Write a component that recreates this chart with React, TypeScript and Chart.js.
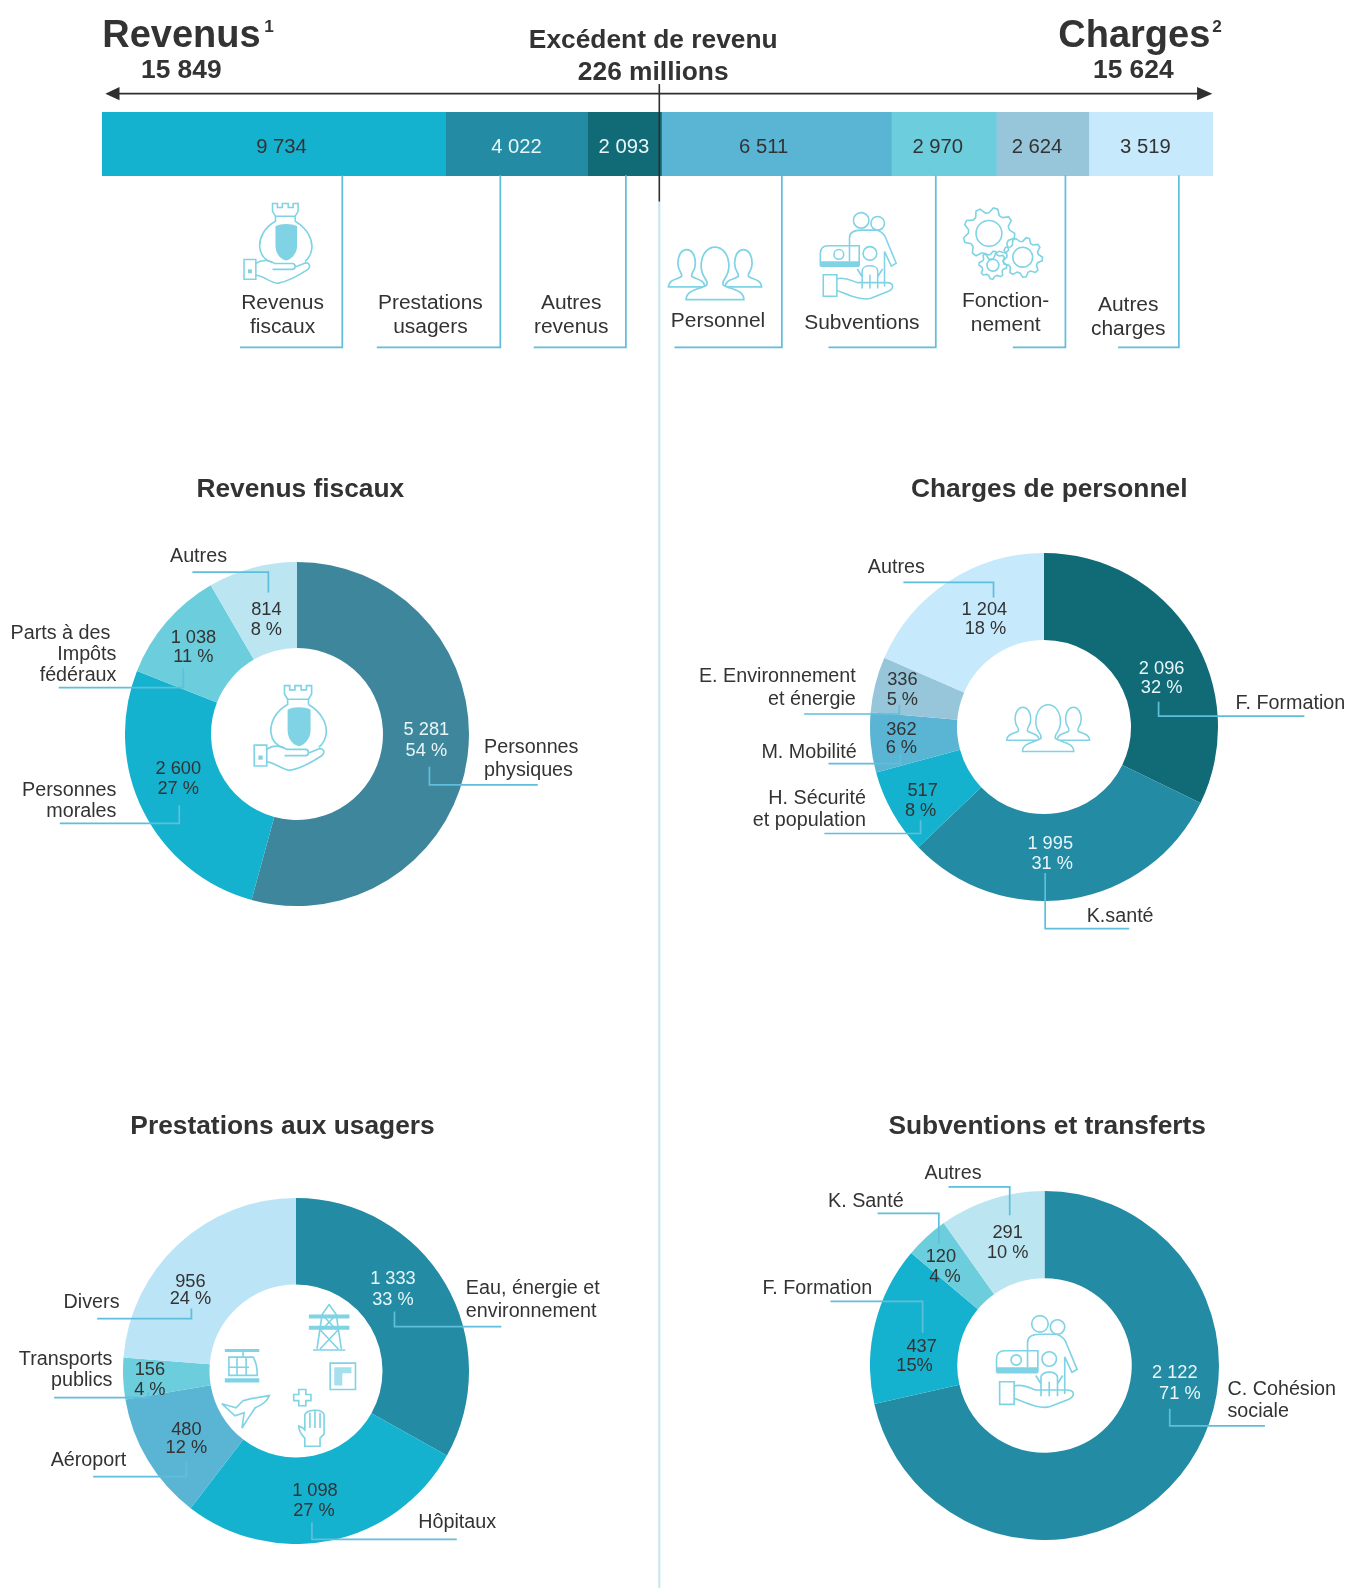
import React, { useEffect, useRef } from "react";
import { Chart, registerables } from "chart.js";

Chart.register(...registerables);

// ---------- DATA ----------
const barCategories = ["Revenus fiscaux", "Prestations usagers", "Autres revenus", "Personnel", "Subventions", "Fonctionnement", "Autres charges"];
const barValues = [9734, 4022, 2093, 6511, 2970, 2624, 3519];

const fiscauxValues = [5281, 2600, 1038, 814];
const fiscauxPercents = ["54 %", "27 %", "11 %", "8 %"];
const fiscauxCategories = ["Personnes physiques", "Personnes morales", "Parts à des Impôts fédéraux", "Autres"];

const personnelValues = [2096, 1995, 517, 362, 336, 1204];
const personnelPercents = ["32 %", "31 %", "8 %", "6 %", "5 %", "18 %"];
const personnelCategories = ["F. Formation", "K.santé", "H. Sécurité et population", "M. Mobilité", "E. Environnement et énergie", "Autres"];

const prestationsValues = [1333, 1098, 480, 156, 956];
const prestationsPercents = ["33 %", "27 %", "12 %", "4 %", "24 %"];
const prestationsCategories = ["Eau, énergie et environnement", "Hôpitaux", "Aéroport", "Transports publics", "Divers"];

const subventionsValues = [2122, 437, 120, 291];
const subventionsPercents = ["71 %", "15%", "4 %", "10 %"];
const subventionsCategories = ["C. Cohésion sociale", "F. Formation", "K. Santé", "Autres"];

// ---------- STYLE + LAYOUT (in the 1332x1568 drawing space) ----------
const S = 1349 / 1332;
const FONT = '"Liberation Sans", Arial, sans-serif';
const INK = "#333333";
const LINE = "#5FBEDB";
const ICON = "#7FD3E4";
const PALE = "#E8F6F9";

const barColors = ["#15B2CF", "#238BA3", "#116B76", "#5AB5D5", "#6CCDDD", "#97C5D9", "#C7E9FC"];
const barLabelX = [278, 510, 616, 754, 926, 1024, 1131];
const barLabelInk = [INK, PALE, PALE, INK, INK, INK, INK];

const fiscauxColors = ["#3E869B", "#15B2CF", "#6CCDDD", "#BBE5F0"];
const personnelColors = ["#116B76", "#238BA3", "#15B2CF", "#5AB5D5", "#97C5D9", "#C7E9FC"];
const prestationsColors = ["#238BA3", "#15B2CF", "#5AB5D5", "#6CCDDD", "#BBE4F6"];
const subventionsColors = ["#238BA3", "#15B2CF", "#6CCDDD", "#BBE5F0"];

const rings = [
  { values: fiscauxValues, labels: fiscauxCategories, colors: fiscauxColors, percents: fiscauxPercents, cx: 293, cy: 725, r: 170,
    pos: [[421, 726], [176, 764], [191, 635], [263, 607]],
    pctPos: [[421, 746], [176, 784], [191, 654], [263, 627]],
    inks: [PALE, INK, INK, INK] },
  { values: personnelValues, labels: personnelCategories, colors: personnelColors, percents: personnelPercents, cx: 1031, cy: 718, r: 172,
    pos: [[1147, 666], [1037, 838], [911, 786], [890, 726], [891, 676], [972, 607]],
    pctPos: [[1147, 684], [1039, 858], [909, 806], [890, 744], [891, 696], [973, 626]],
    inks: [PALE, PALE, INK, INK, INK, INK] },
  { values: prestationsValues, labels: prestationsCategories, colors: prestationsColors, percents: prestationsPercents, cx: 292, cy: 1354, r: 171,
    pos: [[388, 1268], [311, 1477], [184, 1417], [148, 1358], [188, 1271]],
    pctPos: [[388, 1289], [310, 1497], [184, 1435], [148, 1377], [188, 1288]],
    inks: [PALE, INK, INK, INK, INK] },
  { values: subventionsValues, labels: subventionsCategories, colors: subventionsColors, percents: subventionsPercents, cx: 1031.5, cy: 1348, r: 172.5,
    pos: [[1160, 1361], [910, 1335], [929, 1246], [995, 1222]],
    pctPos: [[1165, 1381], [903, 1354], [933, 1266], [995, 1242]],
    inks: [PALE, INK, INK, INK] },
];

type TextSpec = [string, number, number, ("start" | "middle" | "end")?];

const topCaptions: TextSpec[] = [
  ["Revenus", 279, 305, "middle"], ["fiscaux", 279, 329, "middle"],
  ["Prestations", 425, 305, "middle"], ["usagers", 425, 329, "middle"],
  ["Autres", 564, 305, "middle"], ["revenus", 564, 329, "middle"],
  ["Personnel", 709, 323, "middle"], ["Subventions", 851, 325, "middle"],
  ["Fonction-", 993, 303, "middle"], ["nement", 993, 327, "middle"],
  ["Autres", 1114, 307, "middle"], ["charges", 1114, 331, "middle"],
];

const captions: TextSpec[] = [
  ["Autres", 196, 555, "middle"],
  ["Parts à des", 109, 631, "end"], ["Impôts", 115, 652, "end"], ["fédéraux", 115, 672, "end"],
  ["Personnes", 478, 744], ["physiques", 478, 766],
  ["Personnes", 115, 786, "end"], ["morales", 115, 807, "end"],
  ["Autres", 885, 566, "middle"],
  ["E. Environnement", 845, 673, "end"], ["et énergie", 845, 696, "end"],
  ["M. Mobilité", 846, 748, "end"],
  ["H. Sécurité", 855, 794, "end"], ["et population", 855, 816, "end"],
  ["F. Formation", 1220, 700], ["K.santé", 1073, 910],
  ["Eau, énergie et", 460, 1278], ["environnement", 460, 1300],
  ["Hôpitaux", 413, 1509], ["Aéroport", 50, 1448],
  ["Transports", 111, 1348, "end"], ["publics", 111, 1369, "end"], ["Divers", 118, 1292, "end"],
  ["Autres", 941, 1164, "middle"], ["K. Santé", 855, 1192, "middle"], ["F. Formation", 807, 1278, "middle"],
  ["C. Cohésion", 1212, 1377], ["sociale", 1212, 1399],
];

const titles: TextSpec[] = [
  ["Revenus fiscaux", 296.5, 491], ["Charges de personnel", 1036, 491],
  ["Prestations aux usagers", 279, 1120], ["Subventions et transferts", 1034, 1120],
];

const leaders = [
  "M338 173V343H237", "M494 173V343H372", "M618 173V343H527", "M772 173V343H666", "M924 173V343H818", "M1052 173V343H1000", "M1164 173V343H1104",
  "M190 565H265V585", "M58 679H181V660", "M59 813H177V795", "M424 757V775H531",
  "M892 575H981V590", "M794 705H888V696", "M818 754H889V745", "M814 823H909V810", "M1144 693V707H1288", "M1032 862V917H1115",
  "M389.500 1295V1310H495", "M308 1503V1520H451", "M96 1302H189V1292", "M53.500 1380H146.500V1375", "M92 1458H184V1443",
  "M936.500 1172H997V1200", "M866.500 1198H927V1228", "M820 1285H911V1316", "M1155 1391V1408H1249",
];

const fmt = (v: number) => String(v).replace(/\B(?=(\d{3})+$)/g, " ");

// ---------- ICONS ----------
function BagIcon({ x, y, k }: { x: number; y: number; k: number }) {
  return (
    <g transform={`translate(${x} ${y}) scale(${k})`} fill="none" stroke={ICON} strokeWidth={1.6}>
      <path d="M30 1V9L33 14H53L56 9V1H51V5H46V1H40V5H35V1Z" />
      <path d="M33 14V19C22 25 16 36 17 46C18 54 23 59 30 61M53 19V14M53 19C65 26 71 37 70 47C69 53 67 57 63 60" />
      <path d="M33 24C39 21 49 21 55 24V44C55 52 49 58 44 59C38 58 33 52 33 44Z" fill={ICON} stroke="none" />
      <path d="M1 58H13V78H1Z" />
      <rect x={5} y={68} width={4} height={4} fill={ICON} stroke="none" />
      <path d="M13 62C20 57 28 59 32 62H50C54 62 54 68 50 68H30M13 74C20 74 30 83 36 82C46 80 60 72 66 68C70 64 66 60 62 62L52 66" />
    </g>
  );
}

function Person({ cx, cy, w, h, fill }: { cx: number; cy: number; w: number; h: number; fill?: string }) {
  const hr = w * 0.24;
  return (
    <path
      fill={fill ?? "none"}
      d={`M${cx - hr} ${cy}C${cx - hr} ${cy - h * 0.62} ${cx + hr} ${cy - h * 0.62} ${cx + hr} ${cy}C${cx + hr} ${cy + h * 0.3} ${cx + hr * 0.4} ${cy + h * 0.32} ${cx + hr * 0.6} ${cy + h * 0.45}C${cx + hr} ${cy + h * 0.55} ${cx + w / 2} ${cy + h * 0.55} ${cx + w / 2} ${cy + h * 0.8}H${cx - w / 2}C${cx - w / 2} ${cy + h * 0.55} ${cx - hr} ${cy + h * 0.55} ${cx - hr * 0.6} ${cy + h * 0.45}C${cx - hr * 0.4} ${cy + h * 0.32} ${cx - hr} ${cy + h * 0.3} ${cx - hr} ${cy}Z`}
    />
  );
}

function PeopleIcon({ x, y, k }: { x: number; y: number; k: number }) {
  return (
    <g transform={`translate(${x} ${y}) scale(${k})`} fill="none" stroke={ICON} strokeWidth={1.7}>
      <Person cx={18} cy={16} w={36} h={29} />
      <Person cx={74} cy={16} w={36} h={29} />
      <Person cx={46} cy={19} w={57} h={41} fill="#fff" />
    </g>
  );
}

function FamilyIcon({ x, y, k }: { x: number; y: number; k: number }) {
  return (
    <g transform={`translate(${x} ${y}) scale(${k})`} fill="none" stroke={ICON} strokeWidth={1.6}>
      <circle cx={42} cy={10} r={8} />
      <circle cx={59} cy={13} r={7} />
      <path d="M30 52V28C30 22 36 20 42 20H58C64 22 67 26 68 30L78 54L73 57L66 42V78" />
      <circle cx={51} cy={44} r={7} />
      <path d="M43 80V62C43 55 59 55 59 62V80M51 66V80M38 60L43 68M64 60L59 68" />
      <path d="M0 44C0 38 4 36 8 36H40V56H0Z" />
      <path d="M0 52H40V58H0Z" fill={ICON} stroke="none" />
      <circle cx={19} cy={45} r={5} />
      <path d="M3 66H17V88H3Z" />
      <path d="M17 70C26 68 32 72 38 74H68C76 74 76 80 70 83L52 90C42 93 30 87 17 82" />
    </g>
  );
}

function gearPath(cx: number, cy: number, r: number, teeth: number) {
  const pts: string[] = [];
  const n = teeth * 4;
  for (let i = 0; i < n; i++) {
    const a = (i / n) * Math.PI * 2;
    const rr = i % 4 < 2 ? r : r * 0.8;
    pts.push(`${(cx + rr * Math.cos(a)).toFixed(1)} ${(cy + rr * Math.sin(a)).toFixed(1)}`);
  }
  return `M${pts.join("L")}Z`;
}

function GearsIcon({ x, y, k }: { x: number; y: number; k: number }) {
  return (
    <g transform={`translate(${x} ${y}) scale(${k})`} fill="none" stroke={ICON} strokeWidth={1.6}>
      <path d={gearPath(26, 26, 26, 9)} />
      <circle cx={26} cy={26} r={13} />
      <path d={gearPath(60, 50, 20, 9)} />
      <circle cx={60} cy={50} r={10} />
      <path d={gearPath(30, 58, 14, 8)} />
      <circle cx={30} cy={58} r={6} />
    </g>
  );
}

function PublicIcons() {
  return (
    <g fill="none" stroke={ICON} strokeWidth={1.6}>
      <path d="M305 1298H345V1302H305ZM305 1309H345V1313H305Z" fill={ICON} stroke="none" />
      <path d="M325 1288L318 1298L313 1332M325 1288L332 1298L337 1332M318 1298L332 1313M332 1298L318 1313M316 1313L334 1332M334 1313L316 1332M309 1333H341" />
      <path d="M326 1346H351V1372H326Z" />
      <path d="M330 1350H347V1356H338V1368H330Z" fill={ICON} stroke="none" opacity={0.7} />
      <path d="M295 1372H302V1377H307V1383H302V1388H295V1383H290V1377H295Z" />
      <path d="M301 1428V1420C297 1416 295 1412 295 1408L299 1410L301 1412V1397C301 1392 318 1390 320 1397V1416L316 1420V1428Z" />
      <path d="M306 1395V1410M311 1393V1410M316 1395V1410" />
      <path d="M222 1332H256V1335H222ZM222 1361H256V1365H222Z" fill={ICON} stroke="none" />
      <path d="M240 1335V1340M226 1340H250C253 1345 254 1352 254 1358H226Z" />
      <path d="M226 1350H246M234 1340V1358M243 1340V1358" />
      <path d="M219 1386L226 1388L233 1390L240 1383L248 1381L266 1378C264 1384 258 1387 252 1390L244 1402L239 1410L241 1395L232 1398Z" />
    </g>
  );
}

// ---------- CHARTS ----------
function Ring({ ring }: { ring: (typeof rings)[number] }) {
  const ref = useRef<HTMLCanvasElement>(null);
  const d = Math.round(ring.r * 2 * S);
  useEffect(() => {
    const chart = new Chart(ref.current!, {
      type: "doughnut",
      data: { labels: ring.labels, datasets: [{ data: ring.values, backgroundColor: ring.colors, borderWidth: 0 }] },
      options: {
        responsive: false,
        animation: false,
        cutout: "50%",
        rotation: 0,
        layout: { padding: 0 },
        plugins: { legend: { display: false }, tooltip: { enabled: false } },
      },
    });
    return () => chart.destroy();
  }, []);
  return (
    <canvas
      ref={ref}
      width={d}
      height={d}
      style={{ position: "absolute", left: Math.round(ring.cx * S - d / 2), top: Math.round(ring.cy * S - d / 2), width: d, height: d }}
    />
  );
}

function TopBar() {
  const ref = useRef<HTMLCanvasElement>(null);
  const total = barValues.reduce((a, b) => a + b, 0);
  useEffect(() => {
    const chart = new Chart(ref.current!, {
      type: "bar",
      data: {
        labels: ["Total"],
        datasets: barValues.map((v, i) => ({ label: barCategories[i], data: [v], backgroundColor: barColors[i], borderWidth: 0, barPercentage: 1, categoryPercentage: 1 })),
      },
      options: {
        indexAxis: "y",
        responsive: false,
        animation: false,
        layout: { padding: 0 },
        scales: {
          x: { stacked: true, display: false, min: 0, max: total },
          y: { stacked: true, display: false },
        },
        plugins: { legend: { display: false }, tooltip: { enabled: false } },
      },
    });
    return () => chart.destroy();
  }, []);
  const left = Math.round(101 * S);
  const w = Math.round(1198 * S) - left;
  const top = Math.round(111 * S);
  const h = Math.round(173.5 * S) - top;
  return <canvas ref={ref} width={w} height={h} style={{ position: "absolute", left, top, width: w, height: h }} />;
}

function Txt({ t, size, weight, fill }: { t: TextSpec; size: number; weight?: number; fill?: string }) {
  return (
    <text x={t[1]} y={t[2]} textAnchor={t[3] ?? "start"} fontSize={size} fontWeight={weight ?? 400} fill={fill ?? INK} fontFamily={FONT}>
      {t[0]}
    </text>
  );
}

export default function App() {
  return (
    <div style={{ position: "absolute", left: 0, top: 0, width: 1349, height: 1588, background: "#fff", overflow: "hidden" }}>
      <TopBar />
      {rings.map((r, i) => (
        <Ring key={i} ring={r} />
      ))}
      <svg
        width={1349}
        height={1588}
        viewBox="0 0 1332 1568"
        style={{ position: "absolute", left: 0, top: 0, pointerEvents: "none" }}
      >
        <path d="M651 199V1568" stroke="#C6E5EE" strokeWidth={2} fill="none" />
        <path d="M651 83V199" stroke="#2F2F2F" strokeWidth={1.6} fill="none" />
        <path d="M114 92.500H1186" stroke="#2F2F2F" strokeWidth={1.6} fill="none" />
        <path d="M104 92.500L118 86V99Z M1197 92.500L1182 86V99Z" fill="#2F2F2F" />

        <Txt t={["Revenus", 101, 46]} size={37.5} weight={700} />
        <Txt t={["1", 261, 32]} size={17} weight={700} />
        <Txt t={["15 849", 179, 77, "middle"]} size={26} weight={700} />
        <Txt t={["Excédent de revenu", 645, 47, "middle"]} size={26} weight={700} />
        <Txt t={["226 millions", 645, 79, "middle"]} size={26} weight={700} />
        <Txt t={["Charges", 1045, 46]} size={37.5} weight={700} />
        <Txt t={["2", 1197, 32]} size={17} weight={700} />
        <Txt t={["15 624", 1119, 77, "middle"]} size={26} weight={700} />

        {leaders.map((d, i) => (
          <path key={i} d={d} stroke={LINE} strokeWidth={1.7} fill="none" />
        ))}

        {barValues.map((v, i) => (
          <Txt key={i} t={[fmt(v), barLabelX[i], 151, "middle"]} size={20} fill={barLabelInk[i]} />
        ))}

        {topCaptions.map((t, i) => (
          <Txt key={i} t={t} size={20.7} />
        ))}
        {captions.map((t, i) => (
          <Txt key={i} t={t} size={19.5} />
        ))}

        {titles.map((t, i) => (
          <Txt key={i} t={[t[0], t[1], t[2], "middle"]} size={26} weight={700} />
        ))}

        {rings.map((r, i) =>
          r.values.map((v, j) => (
            <g key={`${i}-${j}`}>
              <Txt t={[fmt(v), r.pos[j][0], r.pos[j][1], "middle"]} size={18} fill={r.inks[j]} />
              <Txt t={[r.percents[j], r.pctPos[j][0], r.pctPos[j][1], "middle"]} size={18} fill={r.inks[j]} />
            </g>
          ))
        )}

        <BagIcon x={240} y={200} k={0.97} />
        <PeopleIcon x={660} y={244} k={1} />
        <FamilyIcon x={810} y={208} k={0.96} />
        <GearsIcon x={951} y={205} k={0.98} />
        <BagIcon x={250} y={676} k={1.03} />
        <PeopleIcon x={994} y={696} k={0.89} />
        <PublicIcons />
        <FamilyIcon x={984} y={1297} k={1.02} />
      </svg>
    </div>
  );
}
